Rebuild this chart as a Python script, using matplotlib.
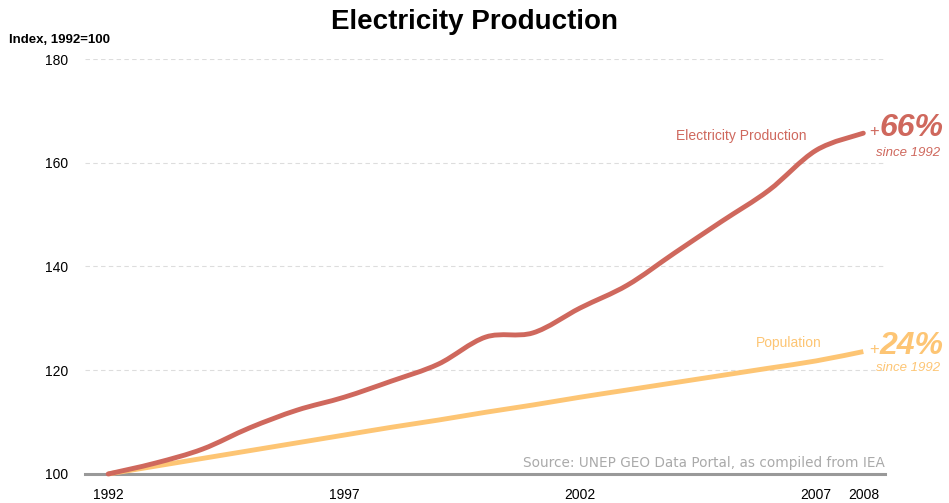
import matplotlib
matplotlib.use('Agg')
import matplotlib.pyplot as plt
from matplotlib.path import Path
from matplotlib.patches import PathPatch

plt.rcParams['font.family'] = ['Liberation Sans', 'DejaVu Sans']

years = list(range(1992, 2009))
electricity = [100, 102.1, 104.8, 108.9, 112.3, 114.8, 117.9, 121.2, 126.4, 127.2,
               132.0, 136.4, 142.6, 148.7, 154.7, 162.4, 165.7]
population = [100, 101.5, 103.0, 104.5, 106.0, 107.5, 109.0, 110.4, 111.9, 113.3,
              114.8, 116.2, 117.6, 119.0, 120.4, 121.8, 123.6]
xticks = [1992, 1997, 2002, 2007, 2008]
yticks = [100, 120, 140, 160, 180]

c_el = '#cf685d'
c_pop = '#fdc574'


def smooth_path(xs, ys):
    # Catmull-Rom through the data points, drawn as cubic Bezier segments
    verts = [(xs[0], ys[0])]
    codes = [Path.MOVETO]
    n = len(xs)
    for i in range(n - 1):
        x0, y0 = (xs[i - 1], ys[i - 1]) if i > 0 else (xs[i], ys[i])
        x1, y1 = xs[i], ys[i]
        x2, y2 = xs[i + 1], ys[i + 1]
        x3, y3 = (xs[i + 2], ys[i + 2]) if i + 2 < n else (x2, y2)
        verts += [(x1 + (x2 - x0) / 6, y1 + (y2 - y0) / 6),
                  (x2 - (x3 - x1) / 6, y2 - (y3 - y1) / 6),
                  (x2, y2)]
        codes += [Path.CURVE4] * 3
    return Path(verts, codes)


fig = plt.figure(figsize=(9.49, 5.03), dpi=100)
ax = fig.add_axes([0.0896, 0.0577, 0.843, 0.825])
ax.set_xlim(1991.51, 2008.46)
ax.set_ylim(100, 180)

for y in yticks[1:]:
    ax.axhline(y, color='#dddddd', lw=0.8, ls=(0, (4, 3)), zorder=0)
ax.axhline(100, color='#999999', lw=2.2, zorder=1, clip_on=False)

ax.add_patch(PathPatch(smooth_path(years, population), facecolor='none',
                       edgecolor=c_pop, lw=3.5, capstyle='butt', zorder=3, clip_on=False))
ax.add_patch(PathPatch(smooth_path(years, electricity), facecolor='none',
                       edgecolor=c_el, lw=3.5, capstyle='round', zorder=4, clip_on=False))

for s in ax.spines.values():
    s.set_visible(False)
ax.set_xticks(xticks)
ax.set_xticklabels([str(x) for x in xticks], fontsize=10)
ax.set_yticks(yticks)
ax.set_yticklabels([str(y) for y in yticks], fontsize=10)
ax.tick_params(length=0, pad=12)
ax.tick_params(axis='x', pad=10)

fig.text(0.5, 0.956, 'Electricity Production', ha='center', va='center',
         fontsize=20, fontweight='bold')
fig.text(0.009, 0.921, 'Index, 1992=100', ha='left', va='center',
         fontsize=9.5, fontweight='bold')


def end_label(name, series, color, name_dx, name_dy, pct_text, sub_dy):
    pt = (years[-1], series[-1])
    ax.annotate(name, pt, xytext=(name_dx, name_dy), textcoords='offset points',
                color=color, fontsize=10, ha='right', va='center')
    ax.annotate('+', pt, xytext=(4.5, 1.5), textcoords='offset points',
                color=color, fontsize=12, ha='left', va='center')
    ax.annotate(pct_text, pt, xytext=(12, 4), textcoords='offset points',
                color=color, fontsize=23, fontweight='bold', style='italic',
                ha='left', va='center', annotation_clip=False)
    ax.annotate('since 1992', pt, xytext=(32.5, sub_dy), textcoords='offset points',
                color=color, fontsize=9.5, style='italic', ha='center', va='center',
                annotation_clip=False)


end_label('Electricity Production', electricity, c_el, -41, -2, '66%', -14.5)
end_label('Population', population, c_pop, -30, 6, '24%', -12)

ax.text(2008.46, 102.2, 'Source: UNEP GEO Data Portal, as compiled from IEA',
        color='#aaaaaa', fontsize=9.8, ha='right', va='center',
        family='Liberation Sans Narrow')

fig.savefig('out.png', dpi=100, facecolor='white')
